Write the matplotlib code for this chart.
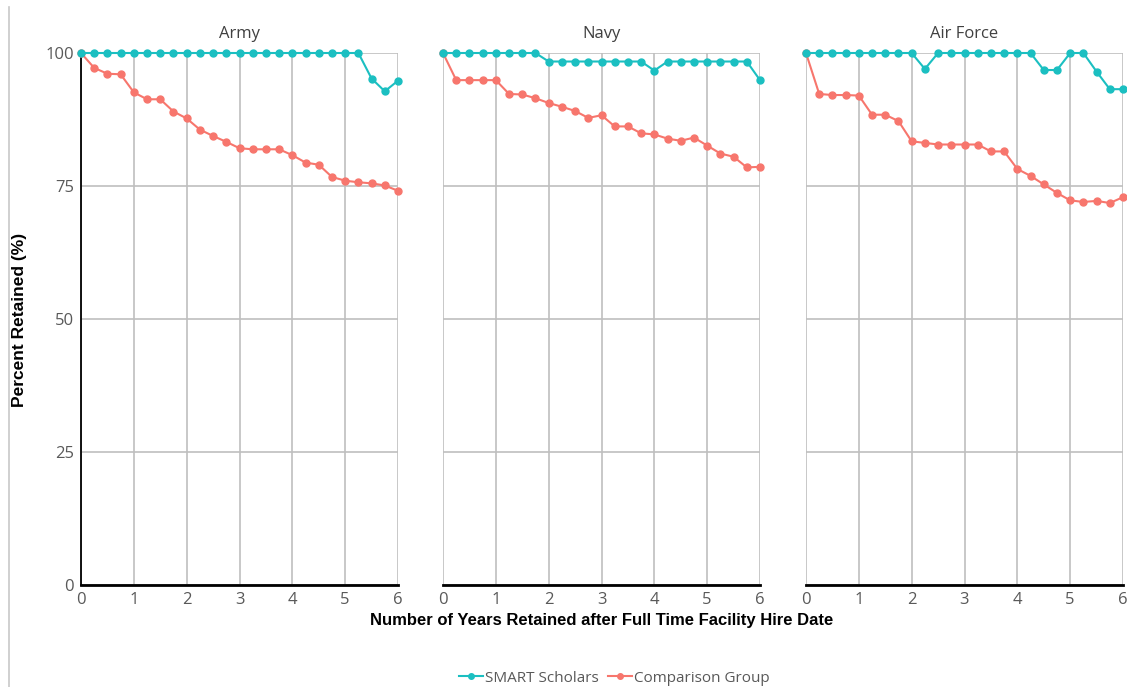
import matplotlib
matplotlib.use('agg')
import matplotlib.pyplot as plt
from matplotlib.lines import Line2D

# quarter-year steps, 0 .. 6 years
years = [i * 0.25 for i in range(25)]

panels = ["Army", "Navy", "Air Force"]

smart = {
    "Army": [100] * 22 + [95.2, 92.8, 94.8],
    "Navy": [100] * 8 + [98.4] * 8 + [96.7] + [98.4] * 7 + [94.9],
    "Air Force": [100] * 9 + [97.0] + [100] * 8 + [96.8, 96.8, 100, 100, 96.5, 93.2, 93.2],
}

comparison = {
    "Army": [100, 97.2, 96.1, 96.0, 92.6, 91.3, 91.3, 89.0, 87.7, 85.6, 84.4, 83.3,
             82.1, 81.9, 81.9, 81.9, 80.8, 79.4, 79.0, 76.7, 76.0, 75.7, 75.5, 75.1, 74.1],
    "Navy": [100, 94.9, 94.9, 94.9, 94.9, 92.3, 92.2, 91.5, 90.6, 89.9, 89.1, 87.8,
             88.3, 86.2, 86.2, 84.9, 84.7, 83.9, 83.5, 84.1, 82.6, 81.1, 80.5, 78.5, 78.6],
    "Air Force": [100, 92.3, 92.1, 92.1, 92.0, 88.4, 88.4, 87.2, 83.4, 83.1, 82.8, 82.8,
                  82.8, 82.8, 81.5, 81.5, 78.2, 76.9, 75.3, 73.7, 72.3, 72.0, 72.2, 71.8, 72.9],
}

teal = "#1bbfc1"
salmon = "#f7766d"
grid_col = "#bfbfbf"
txt_col = "#595959"
font = "Open Sans"
bold_font = "Liberation Sans"

fig = plt.figure(figsize=(11.27, 6.87), dpi=100)

lefts = [81, 443, 806]
for i, name in enumerate(panels):
    ax = fig.add_axes([lefts[i] / 1127, 1 - 585 / 687, 317 / 1127, 532 / 687])
    ax.plot(years, smart[name], color=teal, marker="o", markersize=5, lw=1.5,
            clip_on=False, zorder=4)
    ax.plot(years, comparison[name], color=salmon, marker="o", markersize=5, lw=1.5,
            clip_on=False, zorder=3)
    ax.set_xlim(0, 6)
    ax.set_ylim(0, 100)
    ax.set_xticks(range(7))
    ax.set_yticks([0, 25, 50, 75, 100])
    ax.grid(True, color=grid_col, lw=1.2)
    ax.tick_params(length=0, labelsize=12, labelcolor=txt_col, pad=5)
    for lab in ax.get_xticklabels() + ax.get_yticklabels():
        lab.set_family(font)
    for s in ["top", "right"]:
        ax.spines[s].set_visible(False)
    ax.spines["bottom"].set_color("black")
    ax.spines["bottom"].set_linewidth(2)
    if i == 0:
        ax.spines["left"].set_color("black")
        ax.spines["left"].set_linewidth(1.3)
    else:
        ax.spines["left"].set_visible(False)
        ax.set_yticklabels([])
    ax.set_title(name, fontsize=12, color="#404040", family=font, pad=11)

fig.text(20 / 1127, 1 - 320 / 687, "Percent Retained (%)", rotation=90,
         ha="center", va="center", fontsize=12.5, fontweight="bold", family=bold_font)
fig.text(602 / 1127, 1 - 620 / 687, "Number of Years Retained after Full Time Facility Hire Date",
         ha="center", va="center", fontsize=12, fontweight="bold", family=bold_font)

# thin border line on the left edge
fig.add_artist(Line2D([9 / 1127, 9 / 1127], [0, 1 - 7 / 687], color="#c8c8c8", lw=1.2,
                      transform=fig.transFigure))

handles = [
    Line2D([], [], color=teal, marker="o", markersize=4, lw=1.5),
    Line2D([], [], color=salmon, marker="o", markersize=4, lw=1.5),
]
fig.legend(handles, ["SMART Scholars", "Comparison Group"], loc="center",
           bbox_to_anchor=(614 / 1127, 1 - 678 / 687), ncol=2, frameon=False,
           prop={"family": font, "size": 11}, handlelength=1.6, handletextpad=0.1,
           columnspacing=0.6, labelcolor=txt_col)

fig.savefig("out.png", dpi=100)
